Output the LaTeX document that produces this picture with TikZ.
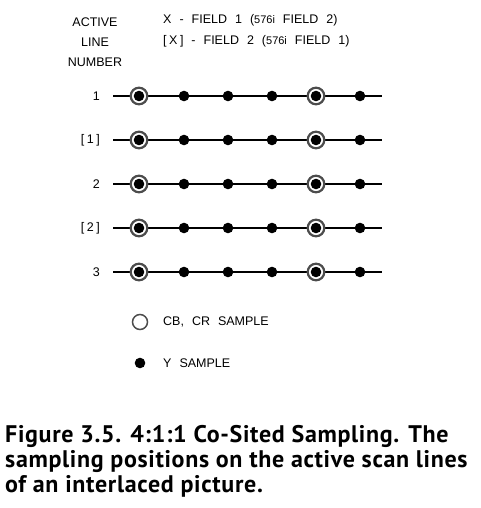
\documentclass[tikz,border=0pt]{standalone}
\usepackage{fontspec}
\setmainfont{Liberation Sans}
\newfontfamily\keyfont[WordSpace=2.3]{Liberation Sans}
\newfontfamily\capfont[LetterSpace=2.8]{PT Sans}
\usetikzlibrary{positioning}

\newcommand{\brk}[1]{[\hspace{2.5pt}#1\hspace{2.5pt}]}
\tikzset{
    small text/.style={font=\keyfont\fontsize{12.5}{20}\selectfont, inner sep=1pt},
    ring/.style={draw=gray!60!black, line width=2.2pt, fill=white},
}

\begin{document}
\begin{tikzpicture}[x=1pt, y=-1pt]
    \useasboundingbox (0, 0) rectangle (480, 508);
    % heading
    \node [small text, align=center] (number) at (95, 42) {ACTIVE\\LINE\\NUMBER};
    \node [small text, anchor=west] (field1) at (162, 20)
	{X - FIELD 1 ({\fontsize{11}{12}\selectfont 576i} FIELD 2)};
    \node [small text, anchor=west] (field2) at (162, 41)
	{\brk{X} - FIELD 2 ({\fontsize{11}{12}\selectfont 576i} FIELD 1)};
    % scan lines
    \foreach \y/\lab [count=\i] in {96/1, 140/{\brk{1}}, 184/2, 228/{\brk{2}}, 272/3} {
	\node [small text, anchor=east] (line\i) at (101, \y) {\lab};
	\coordinate (start\i) at (113, \y);
	\coordinate (end\i) at (382, \y);
	\draw [line width=1.3pt] (start\i) -- (end\i);
	\foreach \x in {139, 316}
	    \draw [ring] (\x, \y) circle (8.3);
	\foreach \x in {139, 184, 228, 272, 316, 360}
	    \fill (\x, \y) circle (5.3);
    }
    % key
    \draw [draw=gray!60!black, line width=1.5pt] (140, 322) circle (7.5);
    \node [small text, anchor=west] (cbcr) at (162, 322) {CB, CR SAMPLE};
    \fill (140, 363) circle (5.3);
    \node [small text, anchor=west] (ysample) at (162, 363) {Y SAMPLE};
    % caption (base = last line)
    \node [anchor=base west, align=left, inner sep=0pt,
	font=\capfont\fontsize{24}{25}\selectfont\bfseries] (caption) at (5, 492)
	{Figure 3.5. 4:1:1 Co-Sited Sampling. The\\
	 sampling positions on the active scan lines\\
	 of an interlaced picture.};
\end{tikzpicture}
\end{document}
